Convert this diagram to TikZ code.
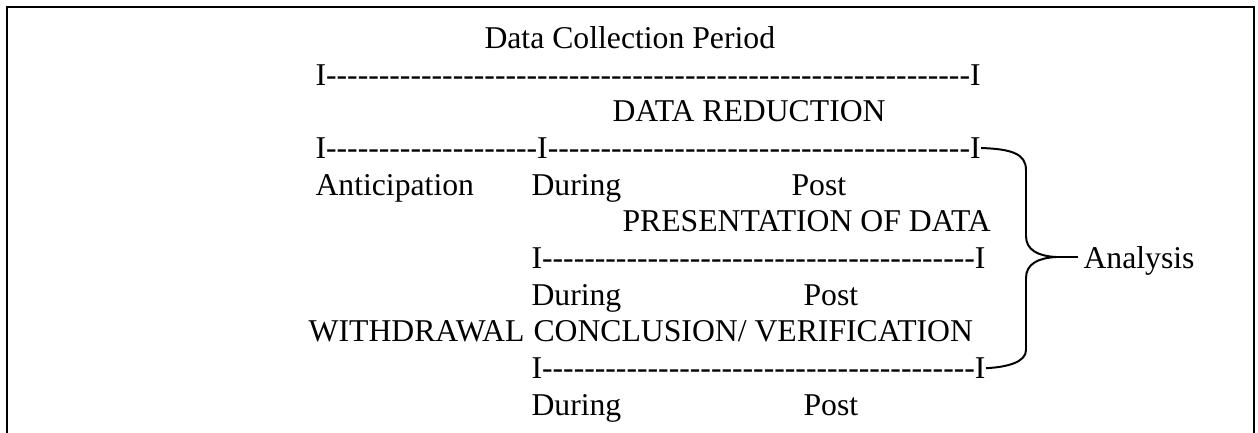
\documentclass[tikz,border=0pt]{standalone}
\usepackage{fontspec}
\setmainfont{Liberation Serif}
\newcount\hycnt
\newcommand\hyphs[1]{\hycnt=#1\relax\loop\ifnum\hycnt>0 -{}\advance\hycnt by -1\repeat}
\begin{document}
\begin{tikzpicture}[x=0.3785pt,y=-0.3785pt,
  txt/.style={anchor=base west,inner sep=0pt,font=\fontsize{12}{14}\selectfont},
  txtr/.style={txt,anchor=base east},
  frame/.style={draw=black,line width=0.75pt},
  bracepath/.style={draw=black,line width=0.75pt}]
\useasboundingbox (0,0) rectangle (1258,432);
\draw[frame] (7,7) rectangle (1254,460);
% rows
\node[txt] (title) at (484,48.3) {Data Collection Period};
\node[txt] (r1) at (315,85) {I\hyphs{61}I};
\node[txt] (red) at (612,121.7) {DATA REDUCTION};
\node[txt] (r3) at (315,158.4) {I\hyphs{20}I\hyphs{40}I};
\node[txt] (ant) at (315,195.1) {Anticipation};
\node[txt] (dur1) at (531,195.1) {During};
\node[txt] (post1) at (791,195.1) {Post};
\node[txt] (pres) at (622,231.8) {PRESENTATION OF DATA};
\node[txt] (r6) at (531,268.5) {I\hyphs{41}I};
\node[txt] (dur2) at (531,305.2) {During};
\node[txt] (post2) at (803,305.2) {Post};
\node[txt] (conc) at (533,341.9) {CONCLUSION/ VERIFICATION};
\node[txtr] (wd) at (525,341.9) {WITHDRAWAL};
\node[txt] (r9) at (531,378.6) {I\hyphs{41}I};
\node[txt] (dur3) at (531,415.3) {During};
\node[txt] (post3) at (803,415.3) {Post};
\node[txt] (an) at (1083,268.3) {Analysis};
% brace
\coordinate (cusp) at (1056,257);
\coordinate (tip) at (1078,257);
\draw[bracepath] (r3.east) .. controls (1012,149) and (1026,154) .. (1026,170)
  -- (1026,236) .. controls (1026,250) and (1038,256) .. (cusp)
  .. controls (1038,258) and (1026,264) .. (1026,278)
  -- (1026,350) .. controls (1026,362) and (1008,367) .. (r9.east);
\draw[bracepath] (cusp) -- (tip);
\end{tikzpicture}
\end{document}
